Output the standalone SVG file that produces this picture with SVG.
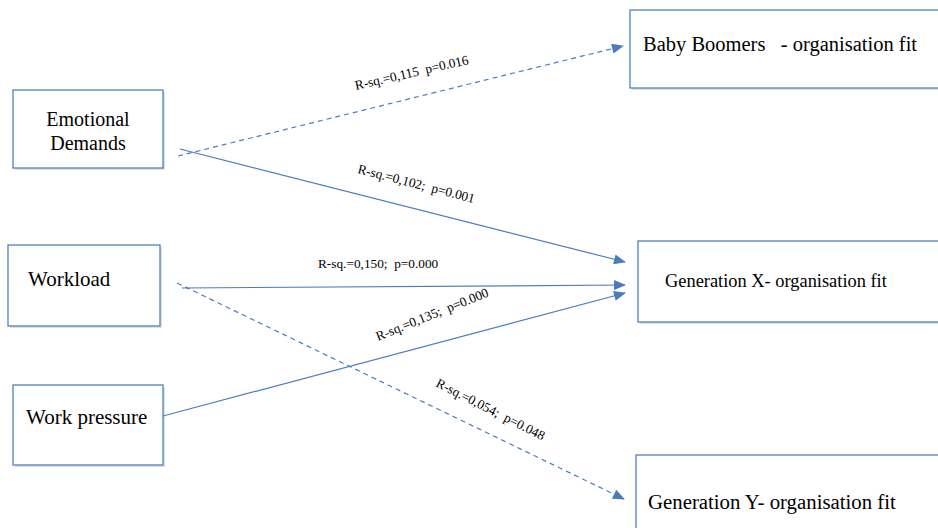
<svg xmlns="http://www.w3.org/2000/svg" width="938" height="528" viewBox="0 0 938 528">
<style>
.box{fill:#fff;stroke:#4f81bd;stroke-width:1.3}
.sh{fill:#e0e0e0}
.ln{stroke:#4a7ebb;stroke-width:1.2;fill:none}
.d{stroke-dasharray:5,4}
</style>
<defs>
<marker id="ah" viewBox="0 0 12 10" refX="11" refY="5" markerWidth="13" markerHeight="10" markerUnits="userSpaceOnUse" orient="auto">
<path d="M0,0 L12,5 L0,10 Z" fill="#4a7ebb"/>
</marker>
</defs>
<rect width="938" height="528" fill="#fff"/>
<g font-family="Liberation Serif, Tinos, DejaVu Serif, serif" fill="#000">
<g id="emotional">
<rect class="sh" x="15" y="92" width="150" height="78"/>
<rect class="box" x="13" y="90" width="150" height="78"/>
<text font-size="20" x="88" y="126" text-anchor="middle">Emotional</text>
<text font-size="20" x="88" y="150" text-anchor="middle">Demands</text>
</g>
<g id="workload">
<rect class="sh" x="10" y="247" width="152" height="81"/>
<rect class="box" x="8" y="245" width="152" height="81"/>
<text font-size="21" x="28" y="286">Workload</text>
</g>
<g id="workpressure">
<rect class="sh" x="15" y="387" width="150" height="80"/>
<rect class="box" x="13" y="385" width="150" height="80"/>
<text font-size="21" x="26" y="424">Work pressure</text>
</g>
<g id="babyboomers">
<rect class="sh" x="632" y="12" width="320" height="78"/>
<rect class="box" x="630" y="10" width="320" height="78"/>
<text font-size="20.5" x="643" y="51" xml:space="preserve">Baby Boomers   - organisation fit</text>
</g>
<g id="genx">
<rect class="sh" x="640" y="243" width="320" height="81"/>
<rect class="box" x="638" y="241" width="320" height="81"/>
<text font-size="18.4" x="665" y="287">Generation X- organisation fit</text>
</g>
<g id="geny">
<rect class="sh" x="638" y="457" width="320" height="90"/>
<rect class="box" x="636" y="455" width="320" height="90"/>
<text font-size="20.8" x="648" y="509">Generation Y- organisation fit</text>
</g>
<g id="connectors">
<line class="ln d" x1="178" y1="156" x2="623" y2="46" marker-end="url(#ah)"/>
<line class="ln" x1="180" y1="149" x2="625" y2="262" marker-end="url(#ah)"/>
<line class="ln" x1="182" y1="288" x2="625" y2="285" marker-end="url(#ah)"/>
<line class="ln d" x1="177" y1="283" x2="624" y2="499" marker-end="url(#ah)"/>
<line class="ln" x1="163" y1="416" x2="625" y2="293" marker-end="url(#ah)"/>
</g>
<g id="labels" font-size="13.3">
<text xml:space="preserve" transform="translate(356,90) rotate(-13)">R-sq.=0,115  p=0.016</text>
<text xml:space="preserve" transform="translate(357,173) rotate(14.5)">R-sq.=0,102;  p=0.001</text>
<text xml:space="preserve" x="318" y="268">R-sq.=0,150;  p=0.000</text>
<text xml:space="preserve" transform="translate(378,341) rotate(-22)">R-sq.=0,135;  p=0.000</text>
<text xml:space="preserve" transform="translate(435,386) rotate(27)">R-sq.=0,054;  p=0.048</text>
</g>
</g>
</svg>
